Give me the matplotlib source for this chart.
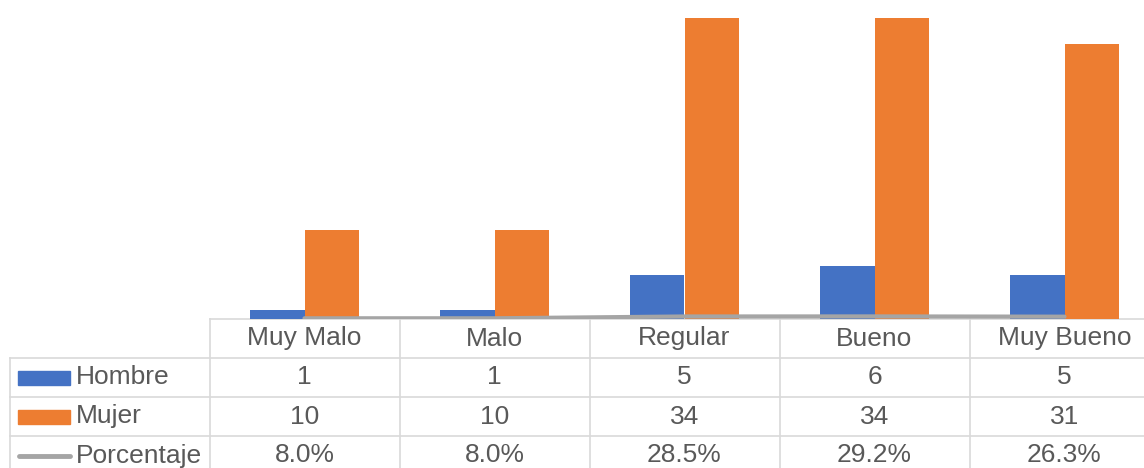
import matplotlib.pyplot as plt

plt.rcParams['font.family'] = ['Liberation Sans', 'DejaVu Sans']

categorias = ['Muy Malo', 'Malo', 'Regular', 'Bueno', 'Muy Bueno']
hombre = [1, 1, 5, 6, 5]
mujer = [10, 10, 34, 34, 31]
porcentaje = [0.080, 0.080, 0.285, 0.292, 0.263]

azul = '#4472C4'
naranja = '#ED7D31'
gris = '#A5A5A5'
borde = '#D9D9D9'
texto = '#595959'

W, H = 1144, 468
fig = plt.figure(figsize=(W / 100, H / 100), dpi=100)

# plot area (pixel layout)
x0, col_w, base_y = 209.5, 190, 319
ax = fig.add_axes([x0 / W, (H - base_y) / H, col_w * 5 / W, base_y / H])
x = list(range(len(categorias)))
bw = 0.285
ax.bar([i - bw / 2 for i in x], hombre, bw, color=azul)
ax.bar([i + bw / 2 for i in x], mujer, bw, color=naranja)
ax.plot(x, porcentaje, color=gris, lw=3, solid_capstyle='round')
ax.set_xlim(-0.5, 4.5)
ax.set_ylim(0, 36)
ax.axis('off')

# data table
tab = fig.add_axes([0, 0, 1, 1], zorder=-1)
tab.set_xlim(0, W)
tab.set_ylim(H, 0)
tab.axis('off')

rows = [319, 358, 397, 436, 475]
right = x0 + col_w * 5
tab.plot([x0, right], [rows[0], rows[0]], color=borde, lw=1.2)
for r in rows[1:-1]:
    tab.plot([10, right], [r, r], color=borde, lw=1.2)
for i in range(6):
    xv = x0 + i * col_w
    tab.plot([xv, xv], [rows[0], H], color=borde, lw=1.2)
tab.plot([10, 10], [rows[1], H], color=borde, lw=1.2)

fs = 19
filas = [
    [c for c in categorias],
    [str(v) for v in hombre],
    [str(v) for v in mujer],
    [f'{v:.1%}' for v in porcentaje],
]
for r, fila in enumerate(filas):
    cy = (rows[r] + rows[r + 1]) / 2
    for i, s in enumerate(fila):
        tab.text(x0 + (i + 0.5) * col_w, cy, s, ha='center', va='center',
                 fontsize=fs, color=texto)

nombres = ['Hombre', 'Mujer', 'Porcentaje']
for r, (nom, col) in enumerate(zip(nombres, [azul, naranja, gris])):
    cy = (rows[r + 1] + rows[r + 2]) / 2
    if r < 2:
        tab.add_patch(plt.Rectangle((18, cy - 7), 52, 14, color=col))
    else:
        tab.plot([19, 70], [cy, cy], color=col, lw=3.5, solid_capstyle='round')
    tab.text(76, cy, nom, ha='left', va='center', fontsize=fs, color=texto)

fig.savefig('out.png', dpi=100)
